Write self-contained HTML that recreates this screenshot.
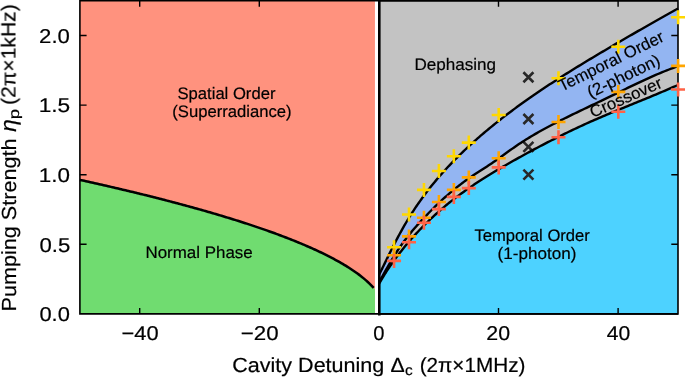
<!DOCTYPE html>
<html><head><meta charset="utf-8"><title>Phase diagram</title>
<style>html,body{margin:0;padding:0;background:#fff}svg{display:block;font-family:"Liberation Sans",sans-serif;fill:#000}text{stroke:#000;stroke-width:0.2px;text-rendering:geometricPrecision}</style></head>
<body><svg width="685" height="377" viewBox="0 0 685 377">
<rect x="0" y="0" width="685" height="377" fill="#fff"/>
<rect x="79.9" y="0.8" width="295.04999999999995" height="313.09999999999997" fill="#ff927e"/>
<path d="M79.90,179.89 L81.38,180.21 L82.85,180.54 L84.33,180.86 L85.81,181.19 L87.28,181.52 L88.76,181.84 L90.23,182.17 L91.71,182.50 L93.19,182.83 L94.66,183.17 L96.14,183.50 L97.62,183.83 L99.09,184.17 L100.57,184.50 L102.05,184.84 L103.52,185.18 L105.00,185.51 L106.47,185.85 L107.95,186.19 L109.43,186.53 L110.90,186.87 L112.38,187.22 L113.86,187.56 L115.33,187.90 L116.81,188.25 L118.29,188.60 L119.76,188.94 L121.24,189.29 L122.72,189.64 L124.19,189.99 L125.67,190.34 L127.14,190.69 L128.62,191.05 L130.10,191.40 L131.57,191.76 L133.05,192.11 L134.53,192.47 L136.00,192.83 L137.48,193.19 L138.96,193.55 L140.43,193.91 L141.91,194.27 L143.38,194.63 L144.86,195.00 L146.34,195.36 L147.81,195.73 L149.29,196.10 L150.77,196.47 L152.24,196.84 L153.72,197.21 L155.20,197.58 L156.67,197.96 L158.15,198.33 L159.62,198.71 L161.10,199.09 L162.58,199.47 L164.05,199.85 L165.53,200.23 L167.01,200.61 L168.48,201.00 L169.96,201.38 L171.44,201.77 L172.91,202.16 L174.39,202.54 L175.86,202.94 L177.34,203.33 L178.82,203.72 L180.29,204.12 L181.77,204.51 L183.25,204.91 L184.72,205.31 L186.20,205.71 L187.68,206.11 L189.15,206.52 L190.63,206.92 L192.11,207.33 L193.58,207.74 L195.06,208.15 L196.53,208.56 L198.01,208.97 L199.49,209.39 L200.96,209.80 L202.44,210.22 L203.92,210.64 L205.39,211.06 L206.87,211.49 L208.35,211.91 L209.82,212.34 L211.30,212.77 L212.77,213.20 L214.25,213.63 L215.73,214.06 L217.20,214.50 L218.68,214.94 L220.16,215.38 L221.63,215.82 L223.11,216.26 L224.59,216.71 L226.06,217.16 L227.54,217.61 L229.01,218.06 L230.49,218.51 L231.97,218.97 L233.44,219.43 L234.92,219.89 L236.40,220.35 L237.87,220.82 L239.35,221.29 L240.83,221.76 L242.30,222.23 L243.78,222.70 L245.25,223.18 L246.73,223.66 L248.21,224.14 L249.68,224.63 L251.16,225.12 L252.64,225.61 L254.11,226.10 L255.59,226.60 L257.07,227.10 L258.54,227.60 L260.02,228.10 L261.49,228.61 L262.97,229.12 L264.45,229.63 L265.92,230.15 L267.40,230.67 L268.88,231.20 L270.35,231.72 L271.83,232.25 L273.31,232.79 L274.78,233.32 L276.26,233.86 L277.74,234.41 L279.21,234.96 L280.69,235.51 L282.16,236.07 L283.64,236.63 L285.12,237.19 L286.59,237.76 L288.07,238.33 L289.55,238.91 L291.02,239.49 L292.50,240.08 L293.98,240.67 L295.45,241.26 L296.93,241.86 L298.40,242.47 L299.88,243.08 L301.36,243.69 L302.83,244.32 L304.31,244.94 L305.79,245.58 L307.26,246.21 L308.74,246.86 L310.22,247.51 L311.69,248.17 L313.17,248.83 L314.64,249.50 L316.12,250.18 L317.60,250.87 L319.07,251.56 L320.55,252.26 L322.03,252.97 L323.50,253.69 L324.98,254.41 L326.46,255.15 L327.93,255.89 L329.41,256.64 L330.88,257.41 L332.36,258.18 L333.84,258.97 L335.31,259.76 L336.79,260.57 L338.27,261.39 L339.74,262.23 L341.22,263.08 L342.70,263.94 L344.17,264.81 L345.65,265.71 L347.13,266.62 L348.60,267.54 L350.08,268.49 L351.55,269.46 L353.03,270.45 L354.51,271.46 L355.98,272.49 L357.46,273.56 L358.94,274.65 L360.41,275.77 L361.89,276.93 L363.37,278.12 L364.84,279.36 L366.32,280.64 L367.79,281.97 L369.27,283.36 L370.75,284.82 L372.22,286.35 L373.70,287.98 L374.95,289.17 L374.95,313.90 L79.90,313.90 Z" fill="#70dc70"/>
<rect x="378.9" y="0.8" width="299.1" height="313.09999999999997" fill="#c3c3c3"/>
<path d="M378.90,274.68 L379.01,274.51 L379.20,274.20 L379.45,273.80 L379.75,273.31 L380.09,272.73 L380.47,271.99 L380.87,271.19 L381.31,270.31 L381.78,269.38 L382.27,268.38 L382.79,267.33 L383.33,266.23 L383.89,265.07 L384.48,263.87 L385.09,262.63 L385.72,261.34 L386.37,260.01 L387.04,258.64 L387.72,257.24 L388.43,255.80 L389.15,254.33 L389.89,252.83 L390.65,251.31 L391.43,249.76 L392.22,248.19 L393.03,246.59 L393.85,244.98 L394.69,243.35 L395.54,241.70 L396.41,240.04 L397.29,238.36 L398.19,236.68 L399.10,234.98 L400.02,233.28 L400.96,231.57 L401.91,229.85 L402.88,228.14 L403.86,226.42 L404.85,224.70 L405.85,222.98 L406.87,221.26 L407.90,219.54 L408.94,217.83 L410.00,216.12 L411.06,214.43 L412.14,212.73 L413.23,211.05 L414.33,209.37 L415.45,207.69 L416.57,206.03 L417.71,204.37 L418.85,202.72 L420.01,201.08 L421.18,199.44 L422.36,197.81 L423.55,196.19 L424.75,194.57 L425.96,192.97 L427.19,191.37 L428.42,189.77 L429.66,188.19 L430.91,186.61 L432.18,185.04 L433.45,183.48 L434.74,181.93 L436.03,180.38 L437.33,178.84 L438.64,177.31 L439.97,175.78 L441.30,174.26 L442.64,172.75 L443.99,171.25 L445.35,169.76 L446.72,168.27 L448.10,166.79 L449.49,165.31 L450.89,163.84 L452.30,162.38 L453.71,160.92 L455.14,159.47 L456.57,158.03 L458.01,156.59 L459.47,155.16 L460.93,153.74 L462.40,152.32 L463.87,150.90 L465.36,149.50 L466.86,148.09 L468.36,146.69 L469.87,145.30 L471.39,143.92 L472.92,142.53 L474.46,141.16 L476.00,139.78 L477.56,138.42 L479.12,137.05 L480.69,135.70 L482.27,134.34 L483.85,132.99 L485.45,131.65 L487.05,130.31 L488.66,128.97 L490.28,127.64 L491.90,126.31 L493.54,124.99 L495.18,123.67 L496.83,122.36 L498.48,121.04 L500.15,119.74 L501.82,118.43 L503.50,117.13 L505.19,115.83 L506.88,114.54 L508.59,113.25 L510.30,111.96 L512.01,110.68 L513.74,109.40 L515.47,108.12 L517.21,106.84 L518.96,105.57 L520.71,104.30 L522.47,103.04 L524.24,101.77 L526.02,100.51 L527.80,99.26 L529.59,98.00 L531.39,96.75 L533.19,95.50 L535.01,94.25 L536.83,93.01 L538.65,91.76 L540.48,90.52 L542.32,89.29 L544.17,88.05 L546.02,86.82 L547.88,85.59 L549.75,84.36 L551.63,83.13 L553.51,81.90 L555.39,80.68 L557.29,79.46 L559.19,78.24 L561.10,77.02 L563.01,75.80 L564.93,74.59 L566.86,73.37 L568.79,72.16 L570.74,70.95 L572.68,69.74 L574.64,68.53 L576.60,67.32 L578.57,66.11 L580.54,64.91 L582.52,63.70 L584.51,62.49 L586.50,61.29 L588.50,60.08 L590.50,58.87 L592.52,57.67 L594.53,56.46 L596.56,55.25 L598.59,54.04 L600.63,52.83 L602.67,51.63 L604.72,50.42 L606.78,49.20 L608.84,47.99 L610.91,46.78 L612.98,45.57 L615.06,44.35 L617.15,43.14 L619.24,41.92 L621.34,40.70 L623.45,39.48 L625.56,38.26 L627.67,37.04 L629.80,35.82 L631.93,34.59 L634.06,33.37 L636.20,32.14 L638.35,30.91 L640.50,29.68 L642.66,28.45 L644.83,27.22 L647.00,25.98 L649.18,24.75 L651.36,23.51 L653.55,22.27 L655.74,21.03 L657.94,19.79 L660.15,18.54 L662.36,17.30 L664.58,16.05 L666.80,14.80 L669.03,13.55 L671.26,12.29 L673.50,11.04 L675.75,9.78 L678.00,8.52 L678.00,66.17 L675.75,66.98 L673.50,67.80 L671.26,68.64 L669.03,69.50 L666.80,70.37 L664.58,71.26 L662.36,72.16 L660.15,73.08 L657.94,74.01 L655.74,74.95 L653.55,75.90 L651.36,76.86 L649.18,77.83 L647.00,78.82 L644.83,79.81 L642.66,80.80 L640.50,81.81 L638.35,82.82 L636.20,83.83 L634.06,84.85 L631.93,85.88 L629.80,86.90 L627.67,87.93 L625.56,88.96 L623.45,89.98 L621.34,91.01 L619.24,92.04 L617.15,93.06 L615.06,94.08 L612.98,95.09 L610.91,96.10 L608.84,97.10 L606.78,98.10 L604.72,99.09 L602.67,100.08 L600.63,101.06 L598.59,102.03 L596.56,103.01 L594.53,103.97 L592.52,104.94 L590.50,105.90 L588.50,106.85 L586.50,107.81 L584.51,108.76 L582.52,109.71 L580.54,110.66 L578.57,111.61 L576.60,112.55 L574.64,113.50 L572.68,114.45 L570.74,115.40 L568.79,116.35 L566.86,117.30 L564.93,118.25 L563.01,119.21 L561.10,120.17 L559.19,121.13 L557.29,122.10 L555.39,123.07 L553.51,124.04 L551.63,125.02 L549.75,126.01 L547.88,127.00 L546.02,128.00 L544.17,129.00 L542.32,130.01 L540.48,131.04 L538.65,132.06 L536.83,133.10 L535.01,134.15 L533.19,135.21 L531.39,136.28 L529.59,137.36 L527.80,138.45 L526.02,139.55 L524.24,140.66 L522.47,141.79 L520.71,142.94 L518.96,144.09 L517.21,145.26 L515.47,146.45 L513.74,147.65 L512.01,148.87 L510.30,150.09 L508.59,151.33 L506.88,152.56 L505.19,153.79 L503.50,155.02 L501.82,156.24 L500.15,157.44 L498.48,158.63 L496.83,159.80 L495.18,160.95 L493.54,162.07 L491.90,163.18 L490.28,164.26 L488.66,165.34 L487.05,166.39 L485.45,167.44 L483.85,168.48 L482.27,169.50 L480.69,170.53 L479.12,171.54 L477.56,172.56 L476.00,173.57 L474.46,174.58 L472.92,175.60 L471.39,176.62 L469.87,177.65 L468.36,178.69 L466.86,179.74 L465.36,180.80 L463.87,181.88 L462.40,182.97 L460.93,184.08 L459.47,185.20 L458.01,186.33 L456.57,187.48 L455.14,188.63 L453.71,189.80 L452.30,190.98 L450.89,192.17 L449.49,193.37 L448.10,194.58 L446.72,195.79 L445.35,197.01 L443.99,198.24 L442.64,199.48 L441.30,200.72 L439.97,201.96 L438.64,203.21 L437.33,204.47 L436.03,205.72 L434.74,206.98 L433.45,208.24 L432.18,209.50 L430.91,210.76 L429.66,212.02 L428.42,213.28 L427.19,214.54 L425.96,215.80 L424.75,217.07 L423.55,218.33 L422.36,219.59 L421.18,220.86 L420.01,222.13 L418.85,223.40 L417.71,224.67 L416.57,225.95 L415.45,227.23 L414.33,228.51 L413.23,229.80 L412.14,231.09 L411.06,232.38 L410.00,233.68 L408.94,234.98 L407.90,236.29 L406.87,237.60 L405.85,238.92 L404.85,240.24 L403.86,241.57 L402.88,242.90 L401.91,244.24 L400.96,245.59 L400.02,246.94 L399.10,248.30 L398.19,249.66 L397.29,251.02 L396.41,252.38 L395.54,253.74 L394.69,255.10 L393.85,256.45 L393.03,257.79 L392.22,259.12 L391.43,260.44 L390.65,261.75 L389.89,263.04 L389.15,264.32 L388.43,265.57 L387.72,266.80 L387.04,268.01 L386.37,269.19 L385.72,270.34 L385.09,271.46 L384.48,272.54 L383.89,273.59 L383.33,274.59 L382.79,275.56 L382.27,276.47 L381.78,277.34 L381.31,278.16 L380.87,278.93 L380.47,279.64 L380.09,280.28 L379.75,280.78 L379.45,281.18 L379.20,281.52 L379.01,281.78 L378.90,281.93 Z" fill="#93b5f2"/>
<path d="M378.90,283.96 L379.01,283.79 L379.20,283.46 L379.45,283.05 L379.75,282.57 L380.09,282.01 L380.47,281.35 L380.87,280.65 L381.31,279.90 L381.78,279.11 L382.27,278.29 L382.79,277.43 L383.33,276.54 L383.89,275.62 L384.48,274.68 L385.09,273.71 L385.72,272.73 L386.37,271.72 L387.04,270.69 L387.72,269.65 L388.43,268.58 L389.15,267.51 L389.89,266.42 L390.65,265.32 L391.43,264.20 L392.22,263.08 L393.03,261.94 L393.85,260.80 L394.69,259.65 L395.54,258.49 L396.41,257.32 L397.29,256.14 L398.19,254.96 L399.10,253.78 L400.02,252.59 L400.96,251.39 L401.91,250.19 L402.88,248.99 L403.86,247.78 L404.85,246.57 L405.85,245.36 L406.87,244.14 L407.90,242.93 L408.94,241.71 L410.00,240.49 L411.06,239.27 L412.14,238.06 L413.23,236.84 L414.33,235.62 L415.45,234.40 L416.57,233.18 L417.71,231.97 L418.85,230.75 L420.01,229.54 L421.18,228.33 L422.36,227.12 L423.55,225.91 L424.75,224.71 L425.96,223.50 L427.19,222.30 L428.42,221.11 L429.66,219.92 L430.91,218.73 L432.18,217.54 L433.45,216.36 L434.74,215.18 L436.03,214.01 L437.33,212.84 L438.64,211.68 L439.97,210.52 L441.30,209.36 L442.64,208.21 L443.99,207.07 L445.35,205.93 L446.72,204.79 L448.10,203.67 L449.49,202.54 L450.89,201.43 L452.30,200.32 L453.71,199.21 L455.14,198.11 L456.57,197.02 L458.01,195.94 L459.47,194.86 L460.93,193.79 L462.40,192.72 L463.87,191.66 L465.36,190.60 L466.86,189.55 L468.36,188.50 L469.87,187.46 L471.39,186.42 L472.92,185.39 L474.46,184.36 L476.00,183.34 L477.56,182.32 L479.12,181.30 L480.69,180.29 L482.27,179.28 L483.85,178.27 L485.45,177.27 L487.05,176.27 L488.66,175.27 L490.28,174.28 L491.90,173.29 L493.54,172.30 L495.18,171.31 L496.83,170.32 L498.48,169.34 L500.15,168.36 L501.82,167.38 L503.50,166.40 L505.19,165.43 L506.88,164.45 L508.59,163.48 L510.30,162.50 L512.01,161.53 L513.74,160.56 L515.47,159.59 L517.21,158.62 L518.96,157.65 L520.71,156.68 L522.47,155.71 L524.24,154.74 L526.02,153.77 L527.80,152.80 L529.59,151.83 L531.39,150.86 L533.19,149.89 L535.01,148.93 L536.83,147.96 L538.65,146.99 L540.48,146.03 L542.32,145.07 L544.17,144.10 L546.02,143.14 L547.88,142.19 L549.75,141.23 L551.63,140.27 L553.51,139.32 L555.39,138.37 L557.29,137.42 L559.19,136.47 L561.10,135.53 L563.01,134.59 L564.93,133.65 L566.86,132.71 L568.79,131.78 L570.74,130.84 L572.68,129.92 L574.64,128.99 L576.60,128.07 L578.57,127.15 L580.54,126.24 L582.52,125.32 L584.51,124.42 L586.50,123.51 L588.50,122.61 L590.50,121.71 L592.52,120.82 L594.53,119.93 L596.56,119.05 L598.59,118.17 L600.63,117.29 L602.67,116.42 L604.72,115.55 L606.78,114.68 L608.84,113.82 L610.91,112.95 L612.98,112.09 L615.06,111.23 L617.15,110.37 L619.24,109.51 L621.34,108.65 L623.45,107.78 L625.56,106.92 L627.67,106.06 L629.80,105.19 L631.93,104.33 L634.06,103.45 L636.20,102.58 L638.35,101.71 L640.50,100.83 L642.66,99.94 L644.83,99.06 L647.00,98.16 L649.18,97.27 L651.36,96.36 L653.55,95.45 L655.74,94.54 L657.94,93.62 L660.15,92.69 L662.36,91.76 L664.58,90.82 L666.80,89.87 L669.03,88.91 L671.26,87.95 L673.50,86.97 L675.75,85.99 L678.00,85.00 L678.00,313.90 L378.90,313.90 Z" fill="#4dd2ff"/>
<path d="M79.9,0.0 V314.7 M79.9,313.9 H678.0 M79.9,0.8 H678.0" stroke="#000" stroke-width="1.6" fill="none"/>
<path d="M379.29999999999995,0.10000000000000009 V315.5" stroke="#000" stroke-width="2.6" fill="none"/>
<path d="M378.9,313.9 H678.0 M378.9,0.8 H678.0 M678.0,0.0 V314.7" stroke="#000" stroke-width="1.6" fill="none"/>
<path d="M139.70,313.9 v-6 M139.70,0.8 v6 M259.30,313.9 v-6 M259.30,0.8 v6 M498.50,313.9 v-6 M498.50,0.8 v6 M618.10,313.9 v-6 M618.10,0.8 v6 M79.9,244.30 h6.7 M678.0,244.30 h-6.7 M79.9,174.70 h6.7 M678.0,174.70 h-6.7 M79.9,105.10 h6.7 M678.0,105.10 h-6.7 M79.9,35.50 h6.7 M678.0,35.50 h-6.7" stroke="#000" stroke-width="1.4" fill="none"/>
<path d="M523.40,72.26 L533.40,82.26 M523.40,82.26 L533.40,72.26 M523.40,114.02 L533.40,124.02 M523.40,124.02 L533.40,114.02 M523.40,141.86 L533.40,151.86 M523.40,151.86 L533.40,141.86 M523.40,169.70 L533.40,179.70 M523.40,179.70 L533.40,169.70" stroke="#282828" stroke-width="2.6" fill="none"/>
<path d="M79.90,179.89 L81.38,180.21 L82.85,180.54 L84.33,180.86 L85.81,181.19 L87.28,181.52 L88.76,181.84 L90.23,182.17 L91.71,182.50 L93.19,182.83 L94.66,183.17 L96.14,183.50 L97.62,183.83 L99.09,184.17 L100.57,184.50 L102.05,184.84 L103.52,185.18 L105.00,185.51 L106.47,185.85 L107.95,186.19 L109.43,186.53 L110.90,186.87 L112.38,187.22 L113.86,187.56 L115.33,187.90 L116.81,188.25 L118.29,188.60 L119.76,188.94 L121.24,189.29 L122.72,189.64 L124.19,189.99 L125.67,190.34 L127.14,190.69 L128.62,191.05 L130.10,191.40 L131.57,191.76 L133.05,192.11 L134.53,192.47 L136.00,192.83 L137.48,193.19 L138.96,193.55 L140.43,193.91 L141.91,194.27 L143.38,194.63 L144.86,195.00 L146.34,195.36 L147.81,195.73 L149.29,196.10 L150.77,196.47 L152.24,196.84 L153.72,197.21 L155.20,197.58 L156.67,197.96 L158.15,198.33 L159.62,198.71 L161.10,199.09 L162.58,199.47 L164.05,199.85 L165.53,200.23 L167.01,200.61 L168.48,201.00 L169.96,201.38 L171.44,201.77 L172.91,202.16 L174.39,202.54 L175.86,202.94 L177.34,203.33 L178.82,203.72 L180.29,204.12 L181.77,204.51 L183.25,204.91 L184.72,205.31 L186.20,205.71 L187.68,206.11 L189.15,206.52 L190.63,206.92 L192.11,207.33 L193.58,207.74 L195.06,208.15 L196.53,208.56 L198.01,208.97 L199.49,209.39 L200.96,209.80 L202.44,210.22 L203.92,210.64 L205.39,211.06 L206.87,211.49 L208.35,211.91 L209.82,212.34 L211.30,212.77 L212.77,213.20 L214.25,213.63 L215.73,214.06 L217.20,214.50 L218.68,214.94 L220.16,215.38 L221.63,215.82 L223.11,216.26 L224.59,216.71 L226.06,217.16 L227.54,217.61 L229.01,218.06 L230.49,218.51 L231.97,218.97 L233.44,219.43 L234.92,219.89 L236.40,220.35 L237.87,220.82 L239.35,221.29 L240.83,221.76 L242.30,222.23 L243.78,222.70 L245.25,223.18 L246.73,223.66 L248.21,224.14 L249.68,224.63 L251.16,225.12 L252.64,225.61 L254.11,226.10 L255.59,226.60 L257.07,227.10 L258.54,227.60 L260.02,228.10 L261.49,228.61 L262.97,229.12 L264.45,229.63 L265.92,230.15 L267.40,230.67 L268.88,231.20 L270.35,231.72 L271.83,232.25 L273.31,232.79 L274.78,233.32 L276.26,233.86 L277.74,234.41 L279.21,234.96 L280.69,235.51 L282.16,236.07 L283.64,236.63 L285.12,237.19 L286.59,237.76 L288.07,238.33 L289.55,238.91 L291.02,239.49 L292.50,240.08 L293.98,240.67 L295.45,241.26 L296.93,241.86 L298.40,242.47 L299.88,243.08 L301.36,243.69 L302.83,244.32 L304.31,244.94 L305.79,245.58 L307.26,246.21 L308.74,246.86 L310.22,247.51 L311.69,248.17 L313.17,248.83 L314.64,249.50 L316.12,250.18 L317.60,250.87 L319.07,251.56 L320.55,252.26 L322.03,252.97 L323.50,253.69 L324.98,254.41 L326.46,255.15 L327.93,255.89 L329.41,256.64 L330.88,257.41 L332.36,258.18 L333.84,258.97 L335.31,259.76 L336.79,260.57 L338.27,261.39 L339.74,262.23 L341.22,263.08 L342.70,263.94 L344.17,264.81 L345.65,265.71 L347.13,266.62 L348.60,267.54 L350.08,268.49 L351.55,269.46 L353.03,270.45 L354.51,271.46 L355.98,272.49 L357.46,273.56 L358.94,274.65 L360.41,275.77 L361.89,276.93 L363.37,278.12 L364.84,279.36 L366.32,280.64 L367.79,281.97 L369.27,283.36 L370.75,284.82 L372.22,286.35 L373.70,287.98" stroke="#000" stroke-width="2.55" fill="none" stroke-linejoin="round"/>
<path d="M378.90,274.68 L379.01,274.51 L379.20,274.20 L379.45,273.80 L379.75,273.31 L380.09,272.73 L380.47,271.99 L380.87,271.19 L381.31,270.31 L381.78,269.38 L382.27,268.38 L382.79,267.33 L383.33,266.23 L383.89,265.07 L384.48,263.87 L385.09,262.63 L385.72,261.34 L386.37,260.01 L387.04,258.64 L387.72,257.24 L388.43,255.80 L389.15,254.33 L389.89,252.83 L390.65,251.31 L391.43,249.76 L392.22,248.19 L393.03,246.59 L393.85,244.98 L394.69,243.35 L395.54,241.70 L396.41,240.04 L397.29,238.36 L398.19,236.68 L399.10,234.98 L400.02,233.28 L400.96,231.57 L401.91,229.85 L402.88,228.14 L403.86,226.42 L404.85,224.70 L405.85,222.98 L406.87,221.26 L407.90,219.54 L408.94,217.83 L410.00,216.12 L411.06,214.43 L412.14,212.73 L413.23,211.05 L414.33,209.37 L415.45,207.69 L416.57,206.03 L417.71,204.37 L418.85,202.72 L420.01,201.08 L421.18,199.44 L422.36,197.81 L423.55,196.19 L424.75,194.57 L425.96,192.97 L427.19,191.37 L428.42,189.77 L429.66,188.19 L430.91,186.61 L432.18,185.04 L433.45,183.48 L434.74,181.93 L436.03,180.38 L437.33,178.84 L438.64,177.31 L439.97,175.78 L441.30,174.26 L442.64,172.75 L443.99,171.25 L445.35,169.76 L446.72,168.27 L448.10,166.79 L449.49,165.31 L450.89,163.84 L452.30,162.38 L453.71,160.92 L455.14,159.47 L456.57,158.03 L458.01,156.59 L459.47,155.16 L460.93,153.74 L462.40,152.32 L463.87,150.90 L465.36,149.50 L466.86,148.09 L468.36,146.69 L469.87,145.30 L471.39,143.92 L472.92,142.53 L474.46,141.16 L476.00,139.78 L477.56,138.42 L479.12,137.05 L480.69,135.70 L482.27,134.34 L483.85,132.99 L485.45,131.65 L487.05,130.31 L488.66,128.97 L490.28,127.64 L491.90,126.31 L493.54,124.99 L495.18,123.67 L496.83,122.36 L498.48,121.04 L500.15,119.74 L501.82,118.43 L503.50,117.13 L505.19,115.83 L506.88,114.54 L508.59,113.25 L510.30,111.96 L512.01,110.68 L513.74,109.40 L515.47,108.12 L517.21,106.84 L518.96,105.57 L520.71,104.30 L522.47,103.04 L524.24,101.77 L526.02,100.51 L527.80,99.26 L529.59,98.00 L531.39,96.75 L533.19,95.50 L535.01,94.25 L536.83,93.01 L538.65,91.76 L540.48,90.52 L542.32,89.29 L544.17,88.05 L546.02,86.82 L547.88,85.59 L549.75,84.36 L551.63,83.13 L553.51,81.90 L555.39,80.68 L557.29,79.46 L559.19,78.24 L561.10,77.02 L563.01,75.80 L564.93,74.59 L566.86,73.37 L568.79,72.16 L570.74,70.95 L572.68,69.74 L574.64,68.53 L576.60,67.32 L578.57,66.11 L580.54,64.91 L582.52,63.70 L584.51,62.49 L586.50,61.29 L588.50,60.08 L590.50,58.87 L592.52,57.67 L594.53,56.46 L596.56,55.25 L598.59,54.04 L600.63,52.83 L602.67,51.63 L604.72,50.42 L606.78,49.20 L608.84,47.99 L610.91,46.78 L612.98,45.57 L615.06,44.35 L617.15,43.14 L619.24,41.92 L621.34,40.70 L623.45,39.48 L625.56,38.26 L627.67,37.04 L629.80,35.82 L631.93,34.59 L634.06,33.37 L636.20,32.14 L638.35,30.91 L640.50,29.68 L642.66,28.45 L644.83,27.22 L647.00,25.98 L649.18,24.75 L651.36,23.51 L653.55,22.27 L655.74,21.03 L657.94,19.79 L660.15,18.54 L662.36,17.30 L664.58,16.05 L666.80,14.80 L669.03,13.55 L671.26,12.29 L673.50,11.04 L675.75,9.78 L678.00,8.52" stroke="#000" stroke-width="2.4" fill="none" stroke-linejoin="round"/>
<path d="M378.90,281.93 L379.01,281.78 L379.20,281.52 L379.45,281.18 L379.75,280.78 L380.09,280.28 L380.47,279.64 L380.87,278.93 L381.31,278.16 L381.78,277.34 L382.27,276.47 L382.79,275.56 L383.33,274.59 L383.89,273.59 L384.48,272.54 L385.09,271.46 L385.72,270.34 L386.37,269.19 L387.04,268.01 L387.72,266.80 L388.43,265.57 L389.15,264.32 L389.89,263.04 L390.65,261.75 L391.43,260.44 L392.22,259.12 L393.03,257.79 L393.85,256.45 L394.69,255.10 L395.54,253.74 L396.41,252.38 L397.29,251.02 L398.19,249.66 L399.10,248.30 L400.02,246.94 L400.96,245.59 L401.91,244.24 L402.88,242.90 L403.86,241.57 L404.85,240.24 L405.85,238.92 L406.87,237.60 L407.90,236.29 L408.94,234.98 L410.00,233.68 L411.06,232.38 L412.14,231.09 L413.23,229.80 L414.33,228.51 L415.45,227.23 L416.57,225.95 L417.71,224.67 L418.85,223.40 L420.01,222.13 L421.18,220.86 L422.36,219.59 L423.55,218.33 L424.75,217.07 L425.96,215.80 L427.19,214.54 L428.42,213.28 L429.66,212.02 L430.91,210.76 L432.18,209.50 L433.45,208.24 L434.74,206.98 L436.03,205.72 L437.33,204.47 L438.64,203.21 L439.97,201.96 L441.30,200.72 L442.64,199.48 L443.99,198.24 L445.35,197.01 L446.72,195.79 L448.10,194.58 L449.49,193.37 L450.89,192.17 L452.30,190.98 L453.71,189.80 L455.14,188.63 L456.57,187.48 L458.01,186.33 L459.47,185.20 L460.93,184.08 L462.40,182.97 L463.87,181.88 L465.36,180.80 L466.86,179.74 L468.36,178.69 L469.87,177.65 L471.39,176.62 L472.92,175.60 L474.46,174.58 L476.00,173.57 L477.56,172.56 L479.12,171.54 L480.69,170.53 L482.27,169.50 L483.85,168.48 L485.45,167.44 L487.05,166.39 L488.66,165.34 L490.28,164.26 L491.90,163.18 L493.54,162.07 L495.18,160.95 L496.83,159.80 L498.48,158.63 L500.15,157.44 L501.82,156.24 L503.50,155.02 L505.19,153.79 L506.88,152.56 L508.59,151.33 L510.30,150.09 L512.01,148.87 L513.74,147.65 L515.47,146.45 L517.21,145.26 L518.96,144.09 L520.71,142.94 L522.47,141.79 L524.24,140.66 L526.02,139.55 L527.80,138.45 L529.59,137.36 L531.39,136.28 L533.19,135.21 L535.01,134.15 L536.83,133.10 L538.65,132.06 L540.48,131.04 L542.32,130.01 L544.17,129.00 L546.02,128.00 L547.88,127.00 L549.75,126.01 L551.63,125.02 L553.51,124.04 L555.39,123.07 L557.29,122.10 L559.19,121.13 L561.10,120.17 L563.01,119.21 L564.93,118.25 L566.86,117.30 L568.79,116.35 L570.74,115.40 L572.68,114.45 L574.64,113.50 L576.60,112.55 L578.57,111.61 L580.54,110.66 L582.52,109.71 L584.51,108.76 L586.50,107.81 L588.50,106.85 L590.50,105.90 L592.52,104.94 L594.53,103.97 L596.56,103.01 L598.59,102.03 L600.63,101.06 L602.67,100.08 L604.72,99.09 L606.78,98.10 L608.84,97.10 L610.91,96.10 L612.98,95.09 L615.06,94.08 L617.15,93.06 L619.24,92.04 L621.34,91.01 L623.45,89.98 L625.56,88.96 L627.67,87.93 L629.80,86.90 L631.93,85.88 L634.06,84.85 L636.20,83.83 L638.35,82.82 L640.50,81.81 L642.66,80.80 L644.83,79.81 L647.00,78.82 L649.18,77.83 L651.36,76.86 L653.55,75.90 L655.74,74.95 L657.94,74.01 L660.15,73.08 L662.36,72.16 L664.58,71.26 L666.80,70.37 L669.03,69.50 L671.26,68.64 L673.50,67.80 L675.75,66.98 L678.00,66.17" stroke="#000" stroke-width="2.4" fill="none" stroke-linejoin="round"/>
<path d="M378.90,283.96 L379.01,283.79 L379.20,283.46 L379.45,283.05 L379.75,282.57 L380.09,282.01 L380.47,281.35 L380.87,280.65 L381.31,279.90 L381.78,279.11 L382.27,278.29 L382.79,277.43 L383.33,276.54 L383.89,275.62 L384.48,274.68 L385.09,273.71 L385.72,272.73 L386.37,271.72 L387.04,270.69 L387.72,269.65 L388.43,268.58 L389.15,267.51 L389.89,266.42 L390.65,265.32 L391.43,264.20 L392.22,263.08 L393.03,261.94 L393.85,260.80 L394.69,259.65 L395.54,258.49 L396.41,257.32 L397.29,256.14 L398.19,254.96 L399.10,253.78 L400.02,252.59 L400.96,251.39 L401.91,250.19 L402.88,248.99 L403.86,247.78 L404.85,246.57 L405.85,245.36 L406.87,244.14 L407.90,242.93 L408.94,241.71 L410.00,240.49 L411.06,239.27 L412.14,238.06 L413.23,236.84 L414.33,235.62 L415.45,234.40 L416.57,233.18 L417.71,231.97 L418.85,230.75 L420.01,229.54 L421.18,228.33 L422.36,227.12 L423.55,225.91 L424.75,224.71 L425.96,223.50 L427.19,222.30 L428.42,221.11 L429.66,219.92 L430.91,218.73 L432.18,217.54 L433.45,216.36 L434.74,215.18 L436.03,214.01 L437.33,212.84 L438.64,211.68 L439.97,210.52 L441.30,209.36 L442.64,208.21 L443.99,207.07 L445.35,205.93 L446.72,204.79 L448.10,203.67 L449.49,202.54 L450.89,201.43 L452.30,200.32 L453.71,199.21 L455.14,198.11 L456.57,197.02 L458.01,195.94 L459.47,194.86 L460.93,193.79 L462.40,192.72 L463.87,191.66 L465.36,190.60 L466.86,189.55 L468.36,188.50 L469.87,187.46 L471.39,186.42 L472.92,185.39 L474.46,184.36 L476.00,183.34 L477.56,182.32 L479.12,181.30 L480.69,180.29 L482.27,179.28 L483.85,178.27 L485.45,177.27 L487.05,176.27 L488.66,175.27 L490.28,174.28 L491.90,173.29 L493.54,172.30 L495.18,171.31 L496.83,170.32 L498.48,169.34 L500.15,168.36 L501.82,167.38 L503.50,166.40 L505.19,165.43 L506.88,164.45 L508.59,163.48 L510.30,162.50 L512.01,161.53 L513.74,160.56 L515.47,159.59 L517.21,158.62 L518.96,157.65 L520.71,156.68 L522.47,155.71 L524.24,154.74 L526.02,153.77 L527.80,152.80 L529.59,151.83 L531.39,150.86 L533.19,149.89 L535.01,148.93 L536.83,147.96 L538.65,146.99 L540.48,146.03 L542.32,145.07 L544.17,144.10 L546.02,143.14 L547.88,142.19 L549.75,141.23 L551.63,140.27 L553.51,139.32 L555.39,138.37 L557.29,137.42 L559.19,136.47 L561.10,135.53 L563.01,134.59 L564.93,133.65 L566.86,132.71 L568.79,131.78 L570.74,130.84 L572.68,129.92 L574.64,128.99 L576.60,128.07 L578.57,127.15 L580.54,126.24 L582.52,125.32 L584.51,124.42 L586.50,123.51 L588.50,122.61 L590.50,121.71 L592.52,120.82 L594.53,119.93 L596.56,119.05 L598.59,118.17 L600.63,117.29 L602.67,116.42 L604.72,115.55 L606.78,114.68 L608.84,113.82 L610.91,112.95 L612.98,112.09 L615.06,111.23 L617.15,110.37 L619.24,109.51 L621.34,108.65 L623.45,107.78 L625.56,106.92 L627.67,106.06 L629.80,105.19 L631.93,104.33 L634.06,103.45 L636.20,102.58 L638.35,101.71 L640.50,100.83 L642.66,99.94 L644.83,99.06 L647.00,98.16 L649.18,97.27 L651.36,96.36 L653.55,95.45 L655.74,94.54 L657.94,93.62 L660.15,92.69 L662.36,91.76 L664.58,90.82 L666.80,89.87 L669.03,88.91 L671.26,87.95 L673.50,86.97 L675.75,85.99 L678.00,85.00" stroke="#000" stroke-width="2.4" fill="none" stroke-linejoin="round"/>
<path d="M387.05,247.30 H401.05 M394.05,240.30 V254.30 M402.00,214.50 H416.00 M409.00,207.50 V221.50 M416.95,189.90 H430.95 M423.95,182.90 V196.90 M431.90,171.00 H445.90 M438.90,164.00 V178.00 M446.85,156.20 H460.85 M453.85,149.20 V163.20 M461.80,142.60 H475.80 M468.80,135.60 V149.60 M491.70,115.00 H505.70 M498.70,108.00 V122.00 M551.50,78.20 H565.50 M558.50,71.20 V85.20 M611.30,46.80 H625.30 M618.30,39.80 V53.80 M671.10,17.20 H685.10 M678.10,10.20 V24.20" stroke="#ffd700" stroke-width="2.6" fill="none"/>
<path d="M387.05,255.30 H401.05 M394.05,248.30 V262.30 M402.00,236.40 H416.00 M409.00,229.40 V243.40 M416.95,217.70 H430.95 M423.95,210.70 V224.70 M431.90,202.00 H445.90 M438.90,195.00 V209.00 M446.85,189.90 H460.85 M453.85,182.90 V196.90 M461.80,177.40 H475.80 M468.80,170.40 V184.40 M491.70,158.20 H505.70 M498.70,151.20 V165.20 M551.50,122.00 H565.50 M558.50,115.00 V129.00 M611.30,91.90 H625.30 M618.30,84.90 V98.90 M671.10,65.90 H685.10 M678.10,58.90 V72.90" stroke="#ffa500" stroke-width="2.6" fill="none"/>
<path d="M387.05,260.90 H401.05 M394.05,253.90 V267.90 M402.00,242.20 H416.00 M409.00,235.20 V249.20 M416.95,222.80 H430.95 M423.95,215.80 V229.80 M431.90,209.10 H445.90 M438.90,202.10 V216.10 M446.85,196.90 H460.85 M453.85,189.90 V203.90 M461.80,188.10 H475.80 M468.80,181.10 V195.10 M491.70,167.40 H505.70 M498.70,160.40 V174.40 M551.50,137.20 H565.50 M558.50,130.20 V144.20 M611.30,111.70 H625.30 M618.30,104.70 V118.70 M671.10,89.50 H685.10 M678.10,82.50 V96.50" stroke="#ff6347" stroke-width="2.6" fill="none"/>
<g style="filter:grayscale(1)">
<text transform="translate(121.48,340.0) scale(1.0926,1)" font-size="20">−40</text>
<text transform="translate(240.86,340.0) scale(1.1142,1)" font-size="20">−20</text>
<text transform="translate(373.37,340.0) scale(1.0100,1)" font-size="20">0</text>
<text transform="translate(486.30,340.0) scale(1.0668,1)" font-size="20">20</text>
<text transform="translate(606.77,340.0) scale(1.0543,1)" font-size="20">40</text>
<text transform="translate(39.42,321.1) scale(1.0945,1)" font-size="20">0.0</text>
<text transform="translate(39.41,251.5) scale(1.1074,1)" font-size="20">0.5</text>
<text transform="translate(38.70,181.9) scale(1.1207,1)" font-size="20">1.0</text>
<text transform="translate(38.68,112.3) scale(1.1343,1)" font-size="20">1.5</text>
<text transform="translate(39.06,42.7) scale(1.1074,1)" font-size="20">2.0</text>
<text transform="translate(177.48,98.5) scale(1.0020,1)" font-size="16.6">Spatial Order</text>
<text transform="translate(172.32,116.6) scale(1.0018,1)" font-size="16.6">(Superradiance)</text>
<text transform="translate(414.47,70.3) scale(1.0280,1)" font-size="16.6">Dephasing</text>
<text transform="translate(145.48,258.4) scale(1.0193,1)" font-size="16.6">Normal Phase</text>
<text transform="translate(474.44,240.5) scale(1.0011,1)" font-size="16.6">Temporal Order</text>
<text transform="translate(497.60,258.5) scale(1.0287,1)" font-size="16.6">(1-photon)</text>
<text transform="translate(561.9,91.6) rotate(-26.3) translate(-0.26,0) scale(1.0011,1)" font-size="16.6">Temporal Order</text>
<text transform="translate(591.3,97.9) rotate(-25.7) translate(-0.80,0) scale(1.0273,1)" font-size="16.6">(2-photon)</text>
<text transform="translate(593.5,117.6) rotate(-23.7) translate(-0.79,0) scale(1.0190,1)" font-size="16.6">Crossover</text>
<text transform="translate(232.19,372) scale(1.0571,1)" font-size="20.4">Cavity Detuning</text>
<text transform="translate(390.57,372) scale(1.0431,1)" font-size="20.4">Δ</text>
<text transform="translate(404.92,374.8) scale(1.0654,1)" font-size="14.5">c</text>
<text transform="translate(419.63,372) scale(1.0168,1)" font-size="20.4">(2π×1MHz)</text>
<text transform="translate(15.5,309.7) rotate(-90) translate(-1.69,0) scale(1.0588,1)" font-size="20.4">Pumping Strength</text>
<text transform="translate(15.5,309.7) rotate(-90) translate(178.05,0) scale(1.0980,1.1)" font-size="20.4" font-style="italic">η</text>
<text transform="translate(15.5,309.7) rotate(-90) translate(190.34,3.5) scale(1.2785,1)" font-size="14.5">p</text>
<text transform="translate(15.5,309.7) rotate(-90) translate(204.81,0) scale(1.0337,1)" font-size="20.4">(2π×1kHz)</text>
</g>
</svg></body></html>
